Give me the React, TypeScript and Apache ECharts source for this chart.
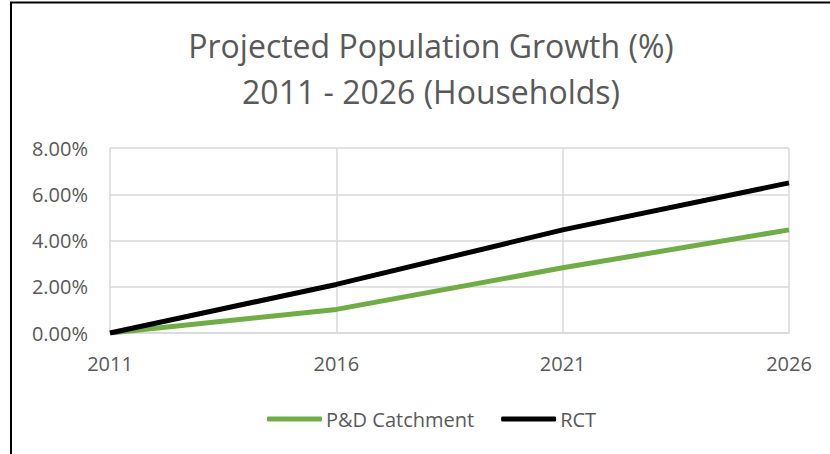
import React, { useEffect, useRef } from "react";
import * as echarts from "echarts";

const years = ["2011", "2016", "2021", "2026"];
const pdCatchment = [0, 1.02, 2.82, 4.46];
const rct = [0, 2.1, 4.46, 6.49];
const titleLines = ["Projected Population Growth (%)", "2011 - 2026 (Households)"];
const seriesNames = ["P&D Catchment", "RCT"];

const FONT = "Open Sans";
const TEXT = "#595959";
const GRID = "#d9d9d9";

export default function App() {
  const ref = useRef<HTMLDivElement>(null);
  useEffect(() => {
    if (!ref.current) return;
    const chart = echarts.init(ref.current, null, { renderer: "svg" });
    chart.setOption({
      animation: false,
      backgroundColor: "#ffffff",
      textStyle: { fontFamily: FONT },
      title: {
        text: titleLines.join("\n"),
        left: 426,
        textAlign: "center",
        top: 17,
        textStyle: {
          fontFamily: FONT,
          fontSize: 32,
          fontWeight: "normal",
          color: TEXT,
          lineHeight: 46,
        },
      },
      graphic: [
        { type: "line", shape: { x1: 11, y1: 2, x2: 11, y2: 454 }, style: { stroke: "#000", lineWidth: 2 } },
        { type: "line", shape: { x1: 10, y1: 2.5, x2: 830, y2: 2.5 }, style: { stroke: "#000", lineWidth: 2 } },
      ],
      legend: {
        data: seriesNames.map((n) => ({ name: n, icon: "roundRect" })),
        left: 262,
        top: 404,
        itemWidth: 55,
        itemHeight: 5,
        itemGap: 27,
        textStyle: { fontFamily: FONT, fontSize: 20, color: TEXT, padding: [0, 0, 0, -1] },
      },
      grid: { left: 110, right: 41, top: 148, bottom: 121, containLabel: false },
      xAxis: {
        type: "category",
        data: years,
        boundaryGap: false,
        axisLine: { lineStyle: { color: GRID, width: 1.5 } },
        axisTick: { show: false },
        splitLine: { show: true, lineStyle: { color: GRID, width: 1.5 } },
        axisLabel: { color: TEXT, fontSize: 20, fontFamily: FONT, margin: 20 },
      },
      yAxis: {
        type: "value",
        min: 0,
        max: 8,
        interval: 2,
        axisLine: { show: false },
        axisTick: { show: false },
        splitLine: { lineStyle: { color: GRID, width: 1.5 } },
        axisLabel: {
          color: TEXT,
          fontSize: 20,
          fontFamily: FONT,
          margin: 22,
          formatter: (v: number) => v.toFixed(2) + "%",
        },
      },
      series: [
        {
          name: seriesNames[0],
          type: "line",
          data: pdCatchment,
          symbol: "none",
          lineStyle: { color: "#70ad47", width: 5 },
          itemStyle: { color: "#70ad47" },
        },
        {
          name: seriesNames[1],
          type: "line",
          data: rct,
          symbol: "none",
          lineStyle: { color: "#000000", width: 5 },
          itemStyle: { color: "#000000" },
        },
      ],
    });
    return () => chart.dispose();
  }, []);
  return (
    <div
      ref={ref}
      style={{ position: "fixed", left: 0, top: 0, width: 830, height: 454, background: "#fff" }}
    />
  );
}
